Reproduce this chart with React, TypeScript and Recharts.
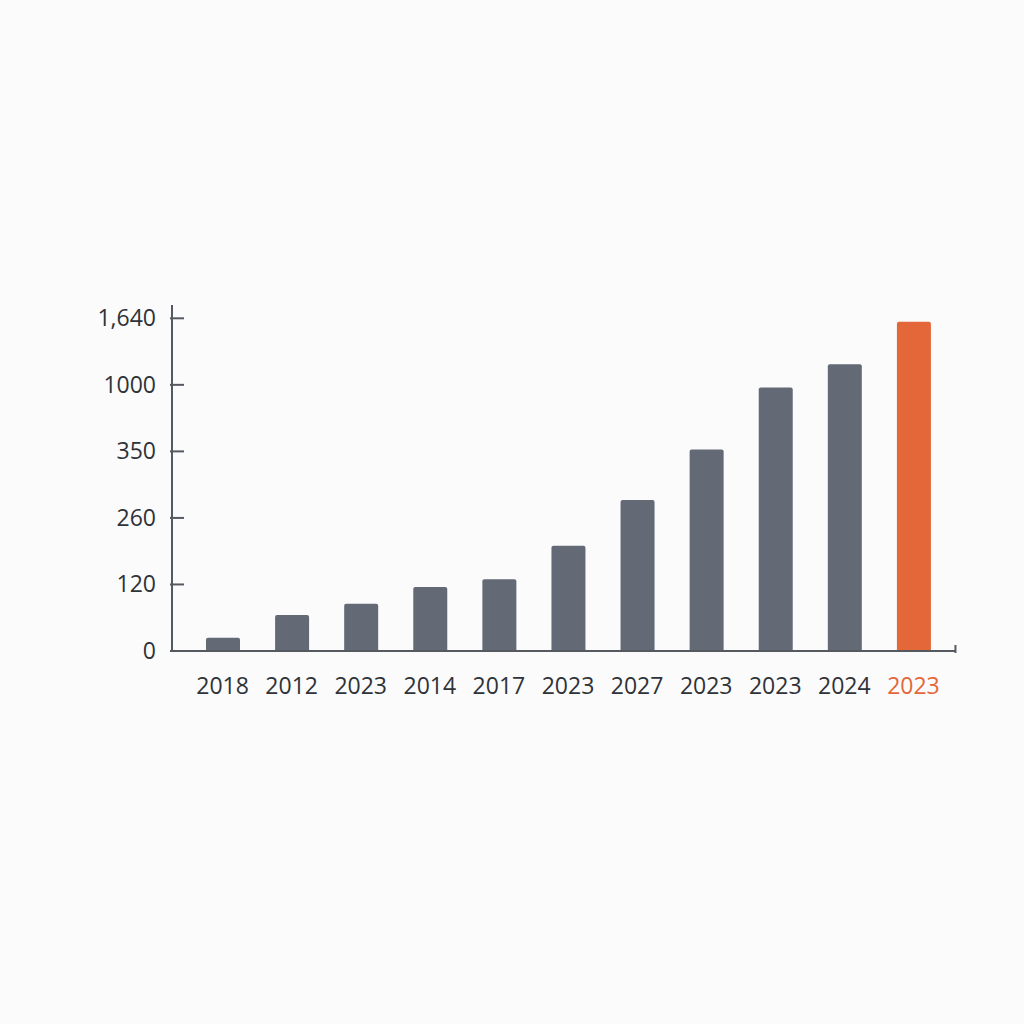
import React from "react";
import { BarChart, Bar, XAxis, YAxis, Cell } from "recharts";

// labels along the bottom (as printed, duplicates included)
const YEARS = ["2018", "2012", "2023", "2014", "2017", "2023", "2027", "2023", "2023", "2024", "2023"];
// bar heights, read in units of one y-axis gridstep
const HEIGHTS = [0.2, 0.54, 0.71, 0.96, 1.08, 1.58, 2.27, 3.03, 3.96, 4.31, 4.95];
// y-axis labels, evenly spaced as printed
const Y_LABELS = ["0", "120", "260", "350", "1000", "1,640"];
const HIGHLIGHT = 10;

const GRAY = "#646a75";
const ORANGE = "#e4673a";
const AXIS = "#555a60";
const FONT = "'Open Sans', 'Noto Sans', sans-serif";

const data = YEARS.map((year, i) => ({ idx: i, year, value: HEIGHTS[i] }));

const YTick = (props: any) => {
  const { x, y, payload } = props;
  return (
    <g>
      <line x1={x} y1={y} x2={x + 14} y2={y} stroke={AXIS} strokeWidth={2} />
      <text x={x - 14} y={y} dy={8} textAnchor="end" fill="#2f3338" fontSize={23} fontFamily={FONT}>
        {Y_LABELS[payload.value]}
      </text>
    </g>
  );
};

const XTick = (props: any) => {
  const { x, y, payload } = props;
  const i = payload.value;
  return (
    <g>
      {i === YEARS.length - 1 && (
        // small closing tick at the right end of the axis
        <line x1={x + 42} y1={y} x2={x + 42} y2={y - 8} stroke={AXIS} strokeWidth={2} />
      )}
      <text x={x} y={y} dy={41} textAnchor="middle" fill={i === HIGHLIGHT ? ORANGE : "#2f3338"} fontSize={23} fontFamily={FONT}>
        {YEARS[i]}
      </text>
    </g>
  );
};

export default function App() {
  return (
    <div style={{ position: "absolute", left: 0, top: 0, width: 1024, height: 1024, background: "#fbfbfb" }}>
      <BarChart width={1024} height={1024} data={data} margin={{ top: 305, right: 69, bottom: 0, left: 92 }}>
        <XAxis
          dataKey="idx"
          height={373}
          padding={{ left: 16, right: 7 }}
          axisLine={{ stroke: AXIS, strokeWidth: 2 }}
          tickLine={false}
          tickSize={0}
          tick={<XTick />}
          interval={0}
        />
        <YAxis
          width={80}
          domain={[0, 5.2]}
          ticks={[0, 1, 2, 3, 4, 5]}
          axisLine={{ stroke: AXIS, strokeWidth: 2 }}
          tickLine={false}
          tickSize={0}
          tick={<YTick />}
          interval={0}
        />
        <Bar dataKey="value" barSize={34} radius={[2, 2, 0, 0]} isAnimationActive={false}>
          {data.map((d) => (
            <Cell key={`cell-${d.idx}`} fill={d.idx === HIGHLIGHT ? ORANGE : GRAY} />
          ))}
        </Bar>
      </BarChart>
    </div>
  );
}
